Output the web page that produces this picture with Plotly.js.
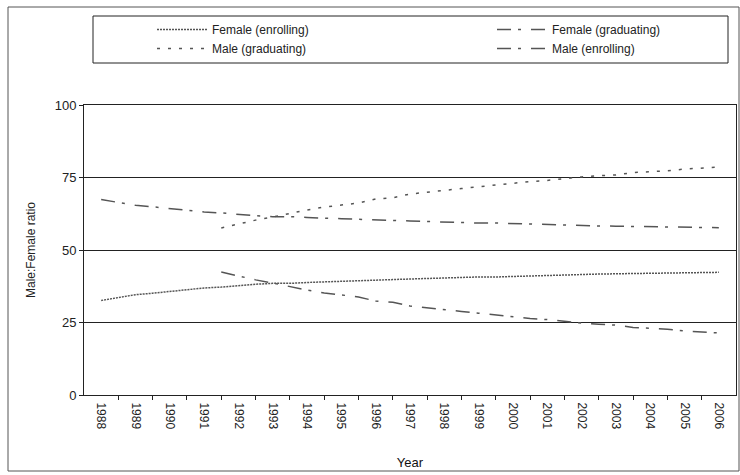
<!DOCTYPE html>
<html>
<head>
<meta charset="utf-8">
<script src="https://cdn.plot.ly/plotly-3.0.1.min.js"></script>
<style>html,body{margin:0;padding:0;background:#fff}#chart{width:740px;height:475px}</style>
</head>
<body>
<div id="chart"></div>
<script>
// Year axis labels
var years = [1988,1989,1990,1991,1992,1993,1994,1995,1996,1997,1998,1999,2000,2001,2002,2003,2004,2005,2006];

// Enrolling series: half-year points from 1988 to 2006
var enrollX = [1988,1988.5,1989,1989.5,1990,1990.5,1991,1991.5,1992,1992.5,1993,1993.5,1994,1994.5,1995,1995.5,1996,1996.5,1997,1997.5,1998,1998.5,1999,1999.5,2000,2000.5,2001,2001.5,2002,2002.5,2003,2003.5,2004,2004.5,2005,2005.5,2006];
var femaleEnrolling = [32.6,33.6,34.6,35.1,35.7,36.3,36.9,37.2,37.8,38.2,38.5,38.5,38.8,38.9,39.2,39.4,39.7,39.8,40.0,40.2,40.3,40.4,40.7,40.7,40.9,41.0,41.1,41.3,41.5,41.7,41.8,41.9,42.0,42.1,42.2,42.3,42.3];
var maleEnrolling   = [67.4,66.4,65.4,64.9,64.3,63.7,63.1,62.8,62.2,61.8,61.5,61.5,61.2,61.1,60.8,60.6,60.3,60.2,60.0,59.8,59.7,59.6,59.3,59.3,59.1,59.0,58.9,58.7,58.5,58.3,58.2,58.1,58.0,57.9,57.8,57.7,57.7];

// Graduating series: half-year points from 1991.5 to 2006
var gradX = [1991.5,1992,1992.5,1993,1993.5,1994,1994.5,1995,1995.5,1996,1996.5,1997,1997.5,1998,1998.5,1999,1999.5,2000,2000.5,2001,2001.5,2002,2002.5,2003,2003.5,2004,2004.5,2005,2005.5,2006];
var femaleGraduating = [42.4,41.0,39.7,38.6,37.3,36.2,35.2,34.5,33.8,32.4,32.0,30.7,30.0,29.3,28.8,28.2,27.6,26.9,26.4,26.0,25.3,24.8,24.4,24.1,23.3,23.0,22.7,22.1,21.7,21.4];
var maleGraduating   = [57.6,59.0,60.3,61.4,62.7,63.8,64.8,65.5,66.2,67.6,68.0,69.3,70.0,70.7,71.2,71.8,72.4,73.1,73.6,74.0,74.7,75.2,75.6,75.9,76.7,77.0,77.3,77.9,78.3,78.6];

var lineCol = '#555555';
var traces = [
  {x: enrollX, y: femaleEnrolling, name: 'Female (enrolling)', type: 'scatter', mode: 'lines', legend: 'legend',
   line: {color: lineCol, width: 1.5, dash: '2px,1px'}},
  {x: gradX, y: maleGraduating, name: 'Male (graduating)', type: 'scatter', mode: 'lines', legend: 'legend',
   line: {color: lineCol, width: 1.5, dash: '3px,8px'}},
  {x: gradX, y: femaleGraduating, name: 'Female (graduating)', type: 'scatter', mode: 'lines', legend: 'legend2',
   line: {color: lineCol, width: 1.5, dash: '14px,7px,3px,10px'}},
  {x: enrollX, y: maleEnrolling, name: 'Male (enrolling)', type: 'scatter', mode: 'lines', legend: 'legend2',
   line: {color: lineCol, width: 1.5, dash: '14px,7px,3px,10px'}},
  // invisible trace to activate the tick-mark axis
  {x: [1988], y: [0], xaxis: 'x2', yaxis: 'y', type: 'scatter', mode: 'markers',
   marker: {opacity: 0}, showlegend: false, hoverinfo: 'skip'}
];

var boundaries = [];
for (var i = 0; i < years.length - 1; i++) boundaries.push(years[i] + 0.5);

var W = 740, H = 475, L = 84, R = 4, T = 105, B = 80;
var pw = W - L - R, ph = H - T - B;
function px(x) { return (x - L) / pw; }
function py(y) { return (H - B - y) / ph; }

var legFont = {family: 'Liberation Sans, Arial, sans-serif', size: 12, color: '#222'};
function legendAt(xPix) {
  return {
    orientation: 'v', xref: 'paper', yref: 'paper',
    x: px(xPix), y: py(15), xanchor: 'left', yanchor: 'top',
    itemwidth: 50, bgcolor: 'rgba(0,0,0,0)', borderwidth: 0,
    traceorder: 'normal', tracegroupgap: 0, font: legFont
  };
}

var layout = {
  width: W, height: H,
  margin: {l: L, r: R, t: T, b: B, autoexpand: false},
  paper_bgcolor: '#ffffff', plot_bgcolor: '#ffffff',
  font: {family: 'Liberation Sans, Arial, sans-serif', color: '#222', size: 12},
  showlegend: true,
  legend: legendAt(152),
  legend2: legendAt(492),
  xaxis: {
    type: 'linear', range: [1987.5, 2006.5], fixedrange: true, automargin: false,
    tickvals: years, ticktext: years.map(String), tickangle: 90,
    ticks: '', showgrid: false, zeroline: false, ticklabelstandoff: 4,
    showline: true, linecolor: '#222', linewidth: 1, mirror: true,
    tickfont: {size: 12, color: '#222'},
    title: {text: 'Year', font: {size: 13, color: '#111', family: 'Liberation Sans, Arial, sans-serif'}, standoff: 29}
  },
  xaxis2: {
    type: 'linear', range: [1987.5, 2006.5], overlaying: 'x', side: 'bottom', anchor: 'y', automargin: false,
    tickvals: boundaries, ticks: 'outside', ticklen: 4, tickcolor: '#222',
    showticklabels: false, showgrid: false, zeroline: false, showline: false
  },
  yaxis: {
    range: [0, 100], tickvals: [0, 25, 50, 75, 100], fixedrange: true, automargin: false,
    ticks: 'outside', ticklen: 4, tickcolor: '#222',
    showgrid: true, gridcolor: '#222', gridwidth: 1, zeroline: false,
    showline: true, linecolor: '#222', linewidth: 1, mirror: true,
    tickfont: {size: 13, color: '#222'},
    title: {text: 'Male:Female ratio', font: {size: 12, color: '#222'}, standoff: 16}
  },
  shapes: [
    {type: 'rect', xref: 'paper', yref: 'paper', x0: px(8), x1: px(739), y0: py(471), y1: py(7),
     line: {color: '#555', width: 1}, fillcolor: 'rgba(0,0,0,0)', layer: 'below'},
    {type: 'rect', xref: 'paper', yref: 'paper', x0: px(93), x1: px(728), y0: py(63), y1: py(16),
     line: {color: '#222', width: 1}, fillcolor: 'rgba(0,0,0,0)', layer: 'below'}
  ]
};

Plotly.newPlot('chart', traces, layout, {displayModeBar: false, staticPlot: true});
</script>
</body>
</html>
